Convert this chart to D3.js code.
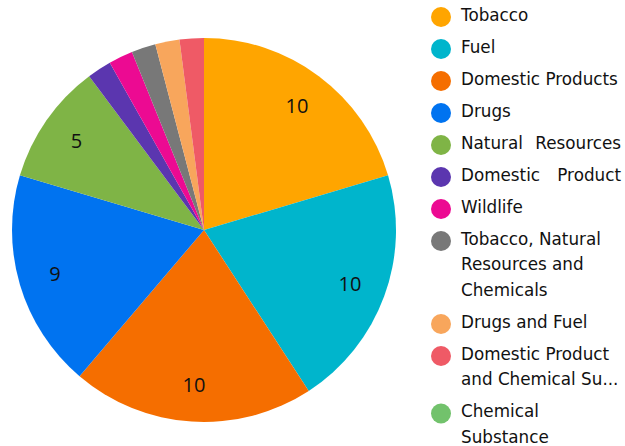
<!DOCTYPE html>
<html><head><meta charset="utf-8">
<script src="https://cdn.jsdelivr.net/npm/d3@7"></script>
<style>body{margin:0;background:#fff}svg{display:block}</style>
</head><body>
<script>
const categories = ["Tobacco","Fuel","Domestic Products","Drugs","Natural Resources","Domestic Product","Wildlife","Tobacco, Natural Resources and Chemicals","Drugs and Fuel","Domestic Product and Chemical Substance","Chemical Substance"];
const values = [10,10,10,9,5,1,1,1,1,1,0];
const colors = ["#FFA500","#00B5CC","#F56E00","#0073F0","#7FB446","#5B36AF","#EC0A92","#787878","#F8A65C","#EF5A66","#72C26C"];
// legend line breaks as shown in the reference
const legendLines = [["Tobacco"],["Fuel"],["Domestic Products"],["Drugs"],["Natural Resources"],["Domestic Product"],["Wildlife"],["Tobacco, Natural","Resources and","Chemicals"],["Drugs and Fuel"],["Domestic Product","and Chemical Su..."],["Chemical","Substance"]];
const justified = [false,false,false,false,true,true,false,false,false,false,false];

const W=625,H=446;
const svg=d3.select("body").append("svg").attr("width",W).attr("height",H);
const cx=204, cy=230, R=192;
const pie=d3.pie().sort(null).value(d=>d)(values);
const arc=d3.arc().innerRadius(0).outerRadius(R);
const labelArc=d3.arc().innerRadius(R*0.81).outerRadius(R*0.81);
const g=svg.append("g").attr("transform",`translate(${cx},${cy})`);
g.selectAll("path").data(pie).join("path").attr("d",arc).attr("fill",(d,i)=>colors[i]);
g.selectAll("text").data(pie.filter(d=>d.data>=5)).join("text")
  .attr("transform",d=>`translate(${labelArc.centroid(d)})`)
  .attr("text-anchor","middle").attr("dy","0.36em")
  .attr("font-family","'Open Sans', sans-serif").attr("font-size",20).attr("fill","#111")
  .text(d=>d.data);

const lg=svg.append("g");
const lineH=25.5, pad=6.5, textX=461, textRight=621;
let y=15;
categories.forEach((c,i)=>{
  const lines=legendLines[i];
  lg.append("circle").attr("cx",441).attr("cy",y+2).attr("r",10).attr("fill",colors[i]);
  lines.forEach((ln,j)=>{
    const ty=y+j*lineH;
    if(justified[i]){
      const words=ln.split(" ");
      lg.append("text").attr("x",textX).attr("y",ty).attr("dy","0.34em").text(words[0]);
      lg.append("text").attr("x",textRight).attr("y",ty).attr("dy","0.34em").attr("text-anchor","end").text(words.slice(1).join(" "));
    } else {
      lg.append("text").attr("x",textX).attr("y",ty).attr("dy","0.34em").text(ln);
    }
  });
  y+= lines.length*lineH + pad;
});
lg.selectAll("text").attr("font-family","'DejaVu Sans', sans-serif").attr("font-size",16.8).attr("fill","#111");
</script>
</body></html>
